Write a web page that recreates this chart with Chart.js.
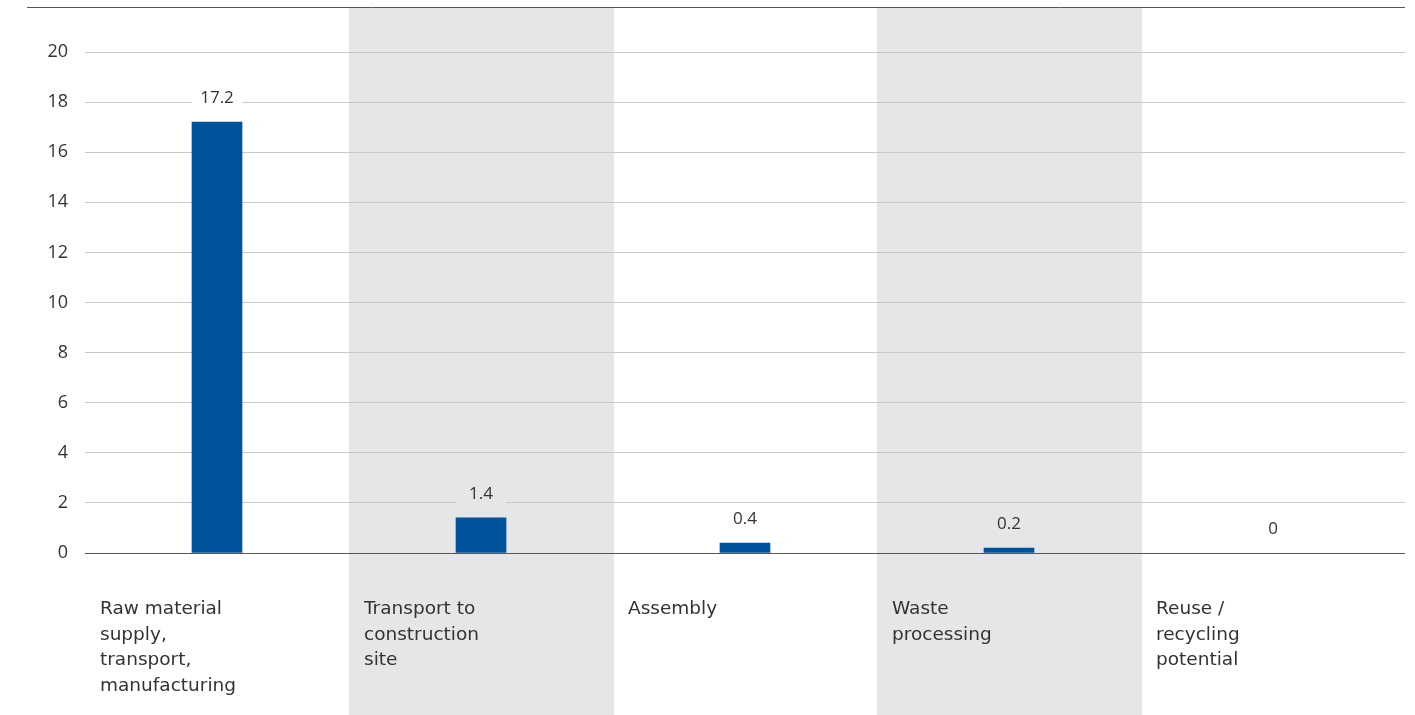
<!DOCTYPE html>
<html>
<head>
<meta charset="utf-8">
<script src="https://cdn.jsdelivr.net/npm/chart.js@4"></script>
<style>
  body { margin: 0; background: #fff; }
  #wrap { width: 1415px; height: 715px; }
</style>
</head>
<body>
<div id="wrap"><canvas id="chart"></canvas></div>
<script>
const categories = [
  ['Raw material', 'supply,', 'transport,', 'manufacturing'],
  ['Transport to', 'construction', 'site'],
  ['Assembly'],
  ['Waste', 'processing'],
  ['Reuse /', 'recycling', 'potential']
];
const values = [17.2, 1.4, 0.4, 0.2, 0];
const valueLabels = ['17.2', '1.4', '0.4', '0.2', '0'];
const shaded = [1, 3]; // categories with grey background
const yTicks = [0, 2, 4, 6, 8, 10, 12, 14, 16, 18, 20];

const BAND = '#e5e6e8';
const TEXT = '#333333';
const FONT = "'Open Sans', sans-serif";
const LABEL_FONT = "'DejaVu Sans', sans-serif";

// grey column backgrounds + thin rule on top
const bandPlugin = {
  id: 'bands',
  beforeDraw(chart) {
    const { ctx, scales: { x } } = chart;
    const step = x.width / categories.length;
    ctx.save();
    ctx.fillStyle = BAND;
    shaded.forEach(i => {
      const c = x.getPixelForValue(i);
      ctx.fillRect(c - step / 2, 7, step + 1, chart.height - 7);
    });
    ctx.strokeStyle = '#555';
    ctx.lineWidth = 1;
    ctx.beginPath();
    ctx.moveTo(27, 7.5);
    ctx.lineTo(x.right, 7.5);
    ctx.stroke();
    ctx.restore();
  }
};

// value labels above bars, with a box that breaks the grid line
const valuePlugin = {
  id: 'values',
  afterDatasetsDraw(chart) {
    const { ctx } = chart;
    const meta = chart.getDatasetMeta(0);
    ctx.save();
    ctx.font = "17px " + FONT;
    ctx.textAlign = 'center';
    ctx.textBaseline = 'middle';
    meta.data.forEach((bar, i) => {
      const y = bar.y - 24;
      ctx.fillStyle = shaded.includes(i) ? BAND : '#fff';
      ctx.fillRect(bar.x - 25, y - 11, 50, 22);
      ctx.fillStyle = TEXT;
      ctx.fillText(valueLabels[i], bar.x, y);
    });
    ctx.restore();
  }
};

new Chart(document.getElementById('chart'), {
  type: 'bar',
  data: {
    labels: categories,
    datasets: [{
      data: values,
      backgroundColor: ctx => ctx.raw === 0 ? 'rgba(0,0,0,0)' : '#00529b',
      barThickness: 50
    }]
  },
  options: {
    responsive: true,
    maintainAspectRatio: false,
    animation: false,
    layout: { padding: { top: 52, right: 10, left: 0, bottom: 0 } },
    plugins: {
      legend: { display: false },
      tooltip: { enabled: false }
    },
    scales: {
      x: {
        grid: { display: false },
        border: { display: false },
        ticks: {
          align: 'start',
          labelOffset: -117,
          padding: 36,
          color: TEXT,
          font: { family: LABEL_FONT, size: 18.5, lineHeight: 1.37 }
        },
        afterFit(scale) { scale.height = 162; }
      },
      y: {
        min: 0,
        max: 20,
        afterBuildTicks(scale) { scale.ticks = yTicks.map(v => ({ value: v })); },
        grid: {
          drawTicks: false,
          color: ctx => ctx.tick && ctx.tick.value === 0 ? '#555' : '#c8c8c8'
        },
        border: { display: false },
        ticks: {
          padding: 17,
          color: TEXT,
          font: { family: FONT, size: 18 }
        },
        afterFit(scale) { scale.width = 85; }
      }
    }
  },
  plugins: [bandPlugin, valuePlugin]
});
</script>
</body>
</html>
